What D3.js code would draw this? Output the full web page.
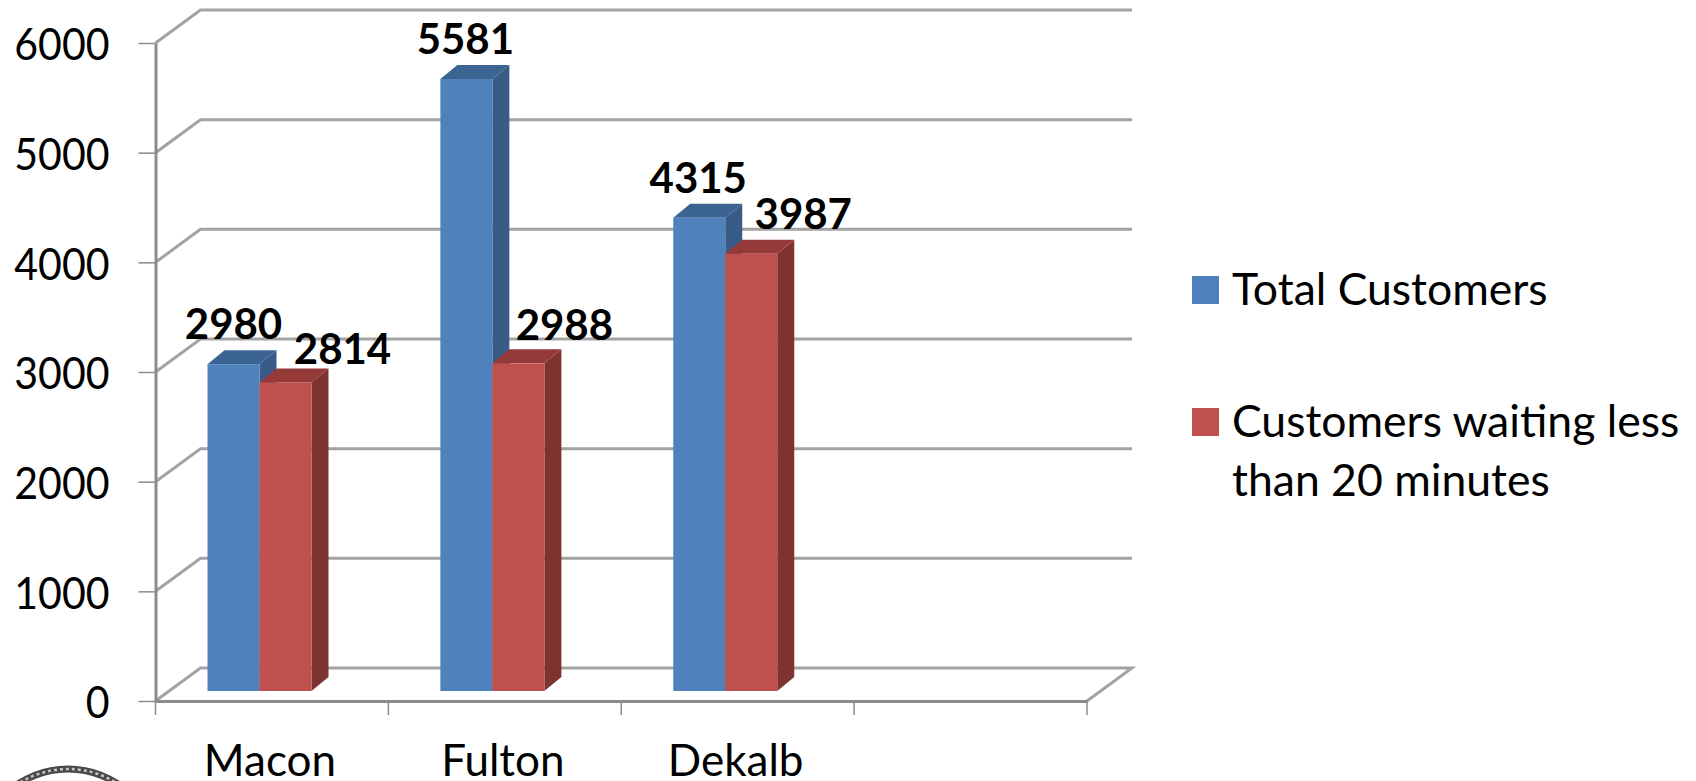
<!DOCTYPE html>
<html>
<head>
<meta charset="utf-8">
<script src="https://cdnjs.cloudflare.com/ajax/libs/d3/7.8.5/d3.min.js"></script>
<style>
  html, body { margin: 0; padding: 0; background: #fff; }
  svg { display: block; }
  text { font-family: Lato, "Open Sans", sans-serif; fill: #000; }
</style>
</head>
<body>
<div id="chart"></div>
<script>
var categories = ["Macon", "Fulton", "Dekalb", ""];
var seriesNames = ["Total Customers", "Customers waiting less"];
var totalCustomers = [2980, 5581, 4315];
var waitingLess = [2814, 2988, 3987];
var yTicks = [0, 1000, 2000, 3000, 4000, 5000, 6000];

var width = 1696, height = 781;

// the 3d look: back wall and bars are shifted from the front axes
var wall = {dx: 45, dy: -33},
    depth = {dx: 17, dy: -14};

var x = d3.scaleBand().domain(categories).range([155.5, 1087]);
var y = d3.scaleLinear().domain([0, 6000]).range([701, 43]);

var svg = d3.select("#chart").append("svg")
    .attr("width", width)
    .attr("height", height);

// gridlines on the wall and the floor
var grid = svg.append("g").attr("fill", "none").attr("stroke", "#a3a3a3").attr("stroke-width", 3);
yTicks.forEach(function(t) {
  grid.append("path")
    .attr("d", "M" + x.range()[0] + "," + y(t) +
      "L" + (x.range()[0] + wall.dx) + "," + (y(t) + wall.dy) +
      "H" + (x.range()[1] + wall.dx) +
      (t === 0 ? "L" + x.range()[1] + "," + y(0) : ""));
});

// axes
var yAxis = svg.append("g")
    .attr("transform", "translate(" + x.range()[0] + ",0)")
    .call(d3.axisLeft(y).tickValues(yTicks).tickSize(17).tickSizeOuter(0).tickPadding(29).tickFormat(d3.format("d")));
var xAxis = svg.append("g")
    .attr("transform", "translate(0," + y(0) + ")")
    .call(d3.axisBottom(x).tickSize(0).tickFormat(""));

xAxis.selectAll(".tick").remove();
x.domain().concat(["end"]).forEach(function(c, i) {
  var px = x.range()[0] + i * x.bandwidth();
  xAxis.append("line").attr("x1", px).attr("x2", px).attr("y1", 0).attr("y2", 14);
});
svg.selectAll(".domain").attr("stroke", "#8c8c8c").attr("stroke-width", 3);
svg.selectAll("line").attr("stroke", "#8c8c8c").attr("stroke-width", 1.5);
// tick digits are taller and narrower than Lato's, so squeeze them a bit
yAxis.selectAll("text")
    .attr("font-size", 44)
    .attr("fill", "#000")
    .attr("dy", "0.38em")
    .attr("lengthAdjust", "spacingAndGlyphs")
    .attr("textLength", function(d) { return String(d).length * 23.8; });

// bars
var barW = 52, barStart = 52, barFloor = -10;
var colors = [
  {front: "#4f81bd", side: "#385c87", top: "#3b6493"},
  {front: "#c0504d", side: "#7e3331", top: "#953a38"}
];

function drawBar(name, i, value, s) {
  var x0 = x(name) + barStart + s * barW,
      x1 = x0 + barW,
      top = y(value) + barFloor,
      base = y(0) + barFloor,
      g = svg.append("g");
  g.append("path").attr("fill", colors[s].side)
    .attr("d", "M" + x1 + "," + top + "l" + depth.dx + "," + depth.dy + "V" + (base + depth.dy) + "l" + (-depth.dx) + "," + (-depth.dy) + "Z");
  g.append("path").attr("fill", colors[s].top)
    .attr("d", "M" + x0 + "," + top + "l" + depth.dx + "," + depth.dy + "h" + barW + "l" + (-depth.dx) + "," + (-depth.dy) + "Z");
  g.append("rect").attr("fill", colors[s].front)
    .attr("x", x0).attr("y", top).attr("width", barW).attr("height", base - top);
  return {x: x0 + barW / 2, y: top - 25};
}

var labels = [];
categories.slice(0, 3).forEach(function(c, i) {
  labels.push([drawBar(c, i, totalCustomers[i], 0), totalCustomers[i], i, 0]);
  labels.push([drawBar(c, i, waitingLess[i], 1), waitingLess[i], i, 1]);
});

// labels were dragged by hand in the original, so each one has its own nudge
var nudgeX = [[0, 57], [-1, 46], [-1, 52]],
    nudgeY = [[0, 7], [0, 2], [0, 0]];

svg.append("g").selectAll("text").data(labels).enter().append("text")
    .attr("x", function(d) { return d[0].x + nudgeX[d[2]][d[3]]; })
    .attr("y", function(d) { return d[0].y + nudgeY[d[2]][d[3]]; })
    .attr("text-anchor", "middle")
    .attr("font-size", 42)
    .attr("font-weight", 700)
    .text(function(d) { return d[1]; });

// category labels
svg.append("g").selectAll("text").data(categories.slice(0, 3)).enter().append("text")
    .attr("x", function(d) { return x(d) + x.bandwidth() / 2 - 2; })
    .attr("y", 776)
    .attr("text-anchor", "middle")
    .attr("font-size", 44)
    .text(function(d) { return d; });

// legend
var legend = svg.append("g");
legend.append("rect").attr("x", 1192).attr("y", 276).attr("width", 27).attr("height", 28).attr("fill", colors[0].front);
legend.append("rect").attr("x", 1192).attr("y", 408).attr("width", 27).attr("height", 28).attr("fill", colors[1].front);
legend.append("text").attr("x", 1232).attr("y", 305).attr("font-size", 44.5).text(seriesNames[0]);
legend.append("text").attr("x", 1232).attr("y", 437).attr("font-size", 44.5).text(seriesNames[1]);
legend.append("text").attr("x", 1232).attr("y", 496).attr("font-size", 44.5).text("than 20 minutes");

// the seal cut off by the bottom edge of the picture
var seal = svg.append("g").attr("fill", "none");
seal.append("circle").attr("cx", 68).attr("cy", 860).attr("r", 91).attr("stroke", "#4a4a4a").attr("stroke-width", 7);
seal.append("circle").attr("cx", 68).attr("cy", 860).attr("r", 91).attr("stroke", "#c8c8c8").attr("stroke-width", 2.5).attr("stroke-dasharray", "3 3");
</script>
</body>
</html>
